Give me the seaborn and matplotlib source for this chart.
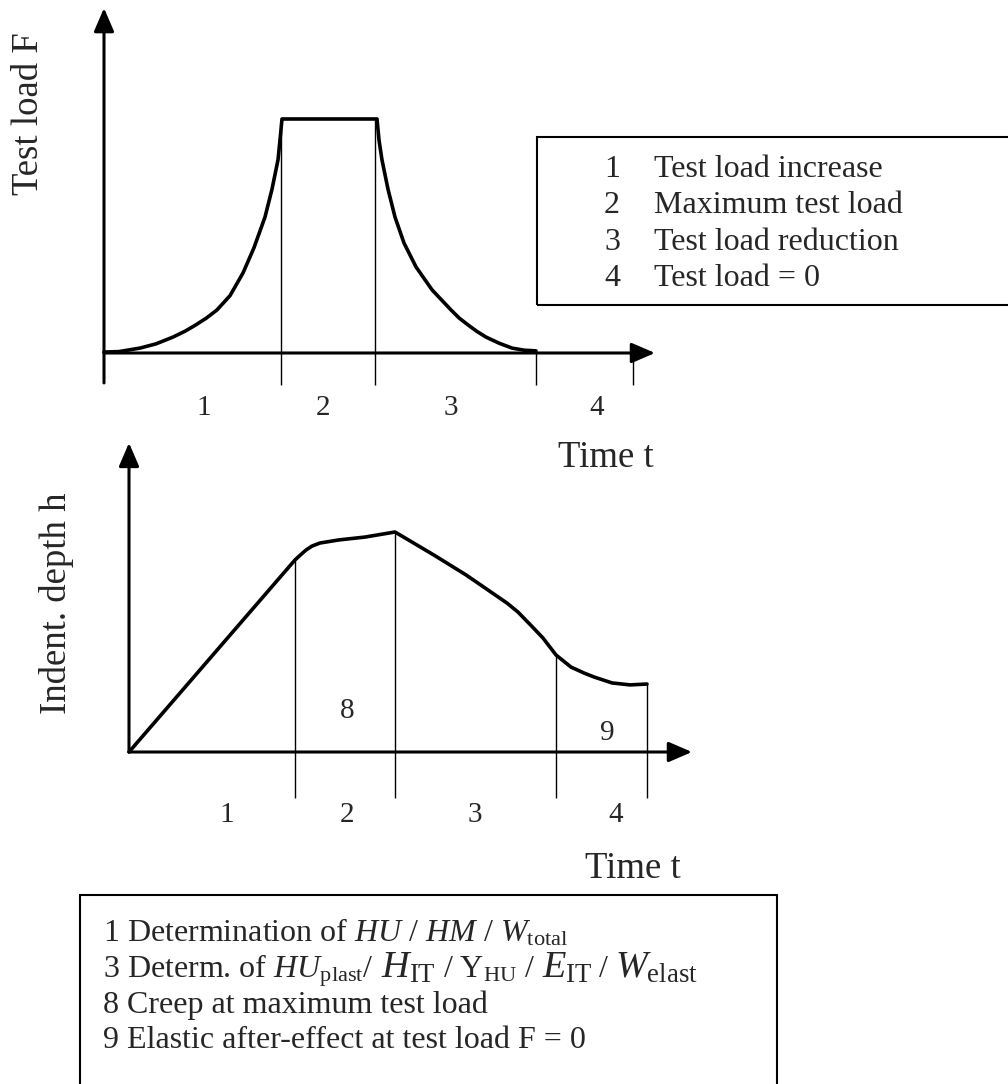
import numpy as np
import pandas as pd
import matplotlib
matplotlib.use("Agg")
import matplotlib.pyplot as plt
from matplotlib.patches import Rectangle
import seaborn as sns

sns.set_theme(style="white")
plt.rcParams["font.family"] = ["Liberation Serif", "DejaVu Serif"]
plt.rcParams["mathtext.fontset"] = "custom"
plt.rcParams["mathtext.rm"] = "Liberation Serif"
plt.rcParams["mathtext.it"] = "Liberation Serif:italic"
plt.rcParams["mathtext.bf"] = "Liberation Serif:bold"

# ---------------- data ----------------
# top panel: test load F (% of max) vs time (arbitrary units)
load_time = [0, 1.5, 3.6, 5.2, 6.9, 8.1, 9.1, 10.2, 11.3, 12.6, 13.9,
             15.0, 16.1, 16.8, 17.4, 17.6, 17.8,
             27.3, 27.5, 27.8, 28.4, 29.1, 30.0, 31.2, 32.8, 34.7, 35.5,
             36.4, 37.3, 38.2, 39.5, 40.8, 42.0, 43.2]
load_value = [0.4, 0.6, 2.1, 3.9, 6.8, 9.3, 11.8, 14.8, 18.4, 24.5, 34.2,
              45.0, 58.1, 70.0, 82.5, 91.0, 100,
              100, 91.0, 82.5, 70.0, 58.1, 47.0, 36.8, 27.0, 18.4, 15.0,
              12.0, 9.2, 6.8, 4.2, 2.1, 1.2, 0.9]
load_phase_bounds = [17.7, 27.1, 43.2, 52.9]
load_phase_labels = ["1", "2", "3", "4"]
load_phase_label_t = [10.0, 21.9, 34.7, 49.3]

# bottom panel: indentation depth h (% of max) vs time
depth_time = [0, 16.6, 17.2, 17.7, 18.3, 19.1, 21.0, 23.6, 26.6,
              30.5, 33.7, 37.8, 38.9, 40.1, 41.4, 42.7, 44.2, 45.5,
              46.5, 48.3, 50.1, 51.8]
depth_value = [0, 87.3, 89.8, 91.8, 93.6, 95.0, 96.4, 97.7, 100,
               89.5, 80.5, 67.7, 63.6, 58.0, 51.8, 44.1, 38.6, 35.9,
               34.1, 31.4, 30.5, 30.9]
depth_phase_bounds = [16.6, 26.6, 42.7, 51.8]
depth_phase_labels = ["1", "2", "3", "4"]
depth_phase_label_t = [9.8, 21.8, 34.6, 48.7]

legend_top_nums = ["1", "2", "3", "4"]
legend_top_text = ["Test load increase", "Maximum test load",
                   "Test load reduction", "Test load = 0"]
# each row: list of (text piece, font size)
legend_bottom_rows = [
    [(r"1 Determination of $\mathit{HU}$ / $\mathit{HM}$ / $W_{\mathrm{total}}$", 23)],
    [(r"3 Determ. of $\mathit{HU}_{\mathrm{plast}}$/", 23),
     (r"$H_{\mathrm{IT}}$", 27.5),
     (r"/ Y$_{\mathrm{HU}}$ /", 23),
     (r"$E_{\mathrm{IT}}$", 27.5),
     (r"/", 23),
     (r"$W_{\mathrm{elast}}$", 27.5)],
    [("8 Creep at maximum test load", 23)],
    [("9 Elastic after-effect at test load F = 0", 23)],
]

# ---------------- figure ----------------
W, H = 1008, 1084
fig = plt.figure(figsize=(W / 100, H / 100), dpi=100)
fig.patch.set_facecolor("white")


def fx(px):
    return px / W


def fy(py):
    return 1 - py / H


AX_LW = 2.2
CURVE_LW = 2.6
THIN_LW = 1.0
arrow_style = "-|>,head_length=0.65,head_width=0.28"

# ----- top panel -----
ax1 = fig.add_axes([0, fy(460), 1, 460 / H])
ax1.set_xlim(-10.4, 90.4)
ax1.set_ylim(-45.73, 150.85)
ax1.axis("off")

df1 = pd.DataFrame({"t": load_time, "F": load_value})
sns.lineplot(data=df1, x="t", y="F", ax=ax1, color="black", lw=CURVE_LW,
             estimator=None, sort=False, legend=False)
ax1.lines[-1].set_solid_joinstyle("round")
for b in load_phase_bounds:
    top = np.interp(b, load_time, load_value, right=0)
    if top < 2:
        top = 0
    ax1.plot([b, b], [-13.5, top], color="black", lw=THIN_LW,
             solid_capstyle="butt")
ax1.annotate("", xy=(0, 147.4), xytext=(0, -12.8),
             arrowprops=dict(arrowstyle=arrow_style, mutation_scale=22,
                             lw=AX_LW, color="black", shrinkA=0, shrinkB=0))
ax1.annotate("", xy=(55.1, 0), xytext=(0, 0),
             arrowprops=dict(arrowstyle=arrow_style, mutation_scale=22,
                             lw=AX_LW, color="black", shrinkA=0, shrinkB=0))
for lab, t in zip(load_phase_labels, load_phase_label_t):
    ax1.text(t, -26.5, lab, ha="center", va="baseline", fontsize=21)
ax1.text(50.2, -48.7, "Time t", ha="center", va="baseline", fontsize=26.5)
ax1.text(-6.6, 102.1, "Test load F", rotation=90, rotation_mode="anchor",
         ha="center", va="baseline", fontsize=26.5)

# ----- bottom panel -----
ax2 = fig.add_axes([0, fy(880), 1, 440 / H])
ax2.set_xlim(-12.9, 87.9)
ax2.set_ylim(-58.18, 141.82)
ax2.axis("off")

df2 = pd.DataFrame({"t": depth_time, "h": depth_value})
sns.lineplot(data=df2, x="t", y="h", ax=ax2, color="black", lw=CURVE_LW,
             estimator=None, sort=False, legend=False)
ax2.lines[-1].set_solid_joinstyle("round")
for b in depth_phase_bounds:
    top = np.interp(b, depth_time, depth_value)
    ax2.plot([b, b], [-20.9, top], color="black", lw=THIN_LW,
             solid_capstyle="butt")
ax2.annotate("", xy=(0, 140.5), xytext=(0, 0),
             arrowprops=dict(arrowstyle=arrow_style, mutation_scale=22,
                             lw=AX_LW, color="black", shrinkA=0, shrinkB=0))
ax2.annotate("", xy=(56.3, 0), xytext=(0, 0),
             arrowprops=dict(arrowstyle=arrow_style, mutation_scale=22,
                             lw=AX_LW, color="black", shrinkA=0, shrinkB=0))
for lab, t in zip(depth_phase_labels, depth_phase_label_t):
    ax2.text(t, -31.8, lab, ha="center", va="baseline", fontsize=21)
ax2.text(21.8, 15.5, "8", ha="center", va="baseline", fontsize=21)
ax2.text(47.8, 5.5, "9", ha="center", va="baseline", fontsize=21)
ax2.text(50.4, -57.3, "Time t", ha="center", va="baseline", fontsize=26.5)
ax2.text(-6.3, 67.7, "Indent. depth h", rotation=90, rotation_mode="anchor",
         ha="center", va="baseline", fontsize=26.5)

# ----- legend boxes -----
fig.add_artist(Rectangle((fx(537), fy(305)), fx(1015 - 537), (305 - 137) / H,
                         transform=fig.transFigure, fill=False,
                         edgecolor="black", lw=1.5))
for i, (n, txt) in enumerate(zip(legend_top_nums, legend_top_text)):
    yb = 177 + i * 36.3
    fig.text(fx(612), fy(yb), n, ha="center", va="baseline", fontsize=23)
    fig.text(fx(654), fy(yb), txt, ha="left", va="baseline", fontsize=23)

fig.add_artist(Rectangle((fx(80), fy(1095)), fx(777 - 80), (1095 - 895) / H,
                         transform=fig.transFigure, fill=False,
                         edgecolor="black", lw=1.5))
renderer = fig.canvas.get_renderer()
gap_px = 7
for i, row in enumerate(legend_bottom_rows):
    yb = 942 + i * 35.3
    x_px = 103
    for piece, size in row:
        t = fig.text(fx(x_px), fy(yb), piece, ha="left", va="baseline",
                     fontsize=size)
        ext = t.get_window_extent(renderer)
        x_px = ext.x1 + gap_px

fig.savefig("out.png", dpi=100, facecolor="white")
